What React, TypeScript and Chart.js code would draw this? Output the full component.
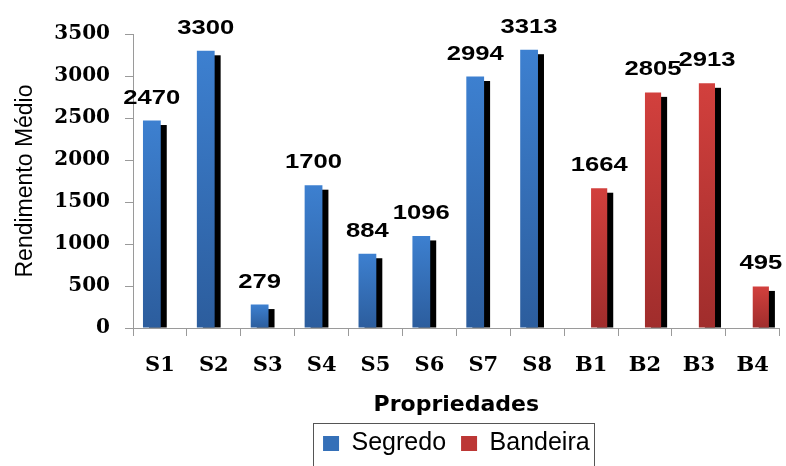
import React, { useEffect, useRef } from "react";
import { Chart, registerables } from "chart.js";

Chart.register(...registerables);

const categories = ["S1", "S2", "S3", "S4", "S5", "S6", "S7", "S8", "B1", "B2", "B3", "B4"];
const segredo = [2470, 3300, 279, 1700, 884, 1096, 2994, 3313, null, null, null, null];
const bandeira = [null, null, null, null, null, null, null, null, 1664, 2805, 2913, 495];
const seriesNames = ["Segredo", "Bandeira"];
const yMin = 0;
const yMax = 3500;
const yStep = 500;
const xTitle = "Propriedades";
const yTitle = "Rendimento Médio";

const BLUE_TOP = "#3D80D0";
const BLUE_BOTTOM = "#2C5D9D";
const RED_TOP = "#D2403D";
const RED_BOTTOM = "#A02D2C";
const AXIS = "#9a9a9a";

function gradientFill(top: string, bottom: string) {
  return (ctx: any) => {
    const chart = ctx.chart;
    const v = ctx.raw;
    const ys = chart.scales && chart.scales.y;
    if (ctx.type !== "data" || v == null || !ys) return top;
    const y0 = ys.getPixelForValue(v);
    const y1 = ys.getPixelForValue(0);
    if (!isFinite(y0) || !isFinite(y1) || Math.abs(y1 - y0) < 1) return top;
    const g = chart.ctx.createLinearGradient(0, y0, 0, y1);
    g.addColorStop(0, top);
    g.addColorStop(1, bottom);
    return g;
  };
}

const shadowPlugin = {
  id: "barShadow",
  beforeDatasetsDraw(chart: any) {
    const ctx = chart.ctx;
    ctx.save();
    ctx.fillStyle = "#000";
    chart.data.datasets.forEach((ds: any, i: number) => {
      const meta = chart.getDatasetMeta(i);
      meta.data.forEach((el: any, j: number) => {
        if (ds.data[j] == null) return;
        const p = el.getProps(["x", "y", "base", "width"], true);
        const h = p.base - p.y - 4.5;
        if (h <= 0) return;
        ctx.fillRect(p.x - p.width / 2 + 6, p.y + 4.5, p.width, h);
      });
    });
    ctx.restore();
  },
};

const valueLabelPlugin = {
  id: "valueLabels",
  afterDatasetsDraw(chart: any) {
    const ctx = chart.ctx;
    ctx.save();
    ctx.fillStyle = "#000";
    ctx.font = 'bold 21px "Liberation Sans", Arial, sans-serif';
    ctx.textAlign = "center";
    ctx.textBaseline = "alphabetic";
    chart.data.datasets.forEach((ds: any, i: number) => {
      const meta = chart.getDatasetMeta(i);
      meta.data.forEach((el: any, j: number) => {
        const v = ds.data[j];
        if (v == null) return;
        const p = el.getProps(["x", "y"], true);
        ctx.save();
        ctx.translate(p.x, p.y - 17);
        ctx.scale(1.22, 1);
        ctx.fillText(String(v), 0, 0);
        ctx.restore();
      });
    });
    ctx.restore();
  },
};

const legendBoxPlugin = {
  id: "legendBorder",
  afterDraw(chart: any) {
    const lg = chart.legend;
    if (!lg || !lg.legendHitBoxes || !lg.legendHitBoxes.length) return;
    const boxes = lg.legendHitBoxes;
    let l = Infinity, r = -Infinity, t = Infinity;
    boxes.forEach((b: any) => {
      l = Math.min(l, b.left);
      r = Math.max(r, b.left + b.width);
      t = Math.min(t, b.top);
    });
    const ctx = chart.ctx;
    ctx.save();
    ctx.strokeStyle = "#555";
    ctx.lineWidth = 1;
    const left = Math.round(l - 10) + 0.5;
    const right = Math.round(r + 4) + 0.5;
    const top = Math.round(t - 8) + 0.5;
    ctx.strokeRect(left, top, right - left, chart.height + 20 - top);
    ctx.restore();
  },
};

export default function App() {
  const canvasRef = useRef<HTMLCanvasElement | null>(null);

  useEffect(() => {
    if (!canvasRef.current) return;
    const chart = new Chart(canvasRef.current, {
      type: "bar",
      data: {
        labels: categories,
        datasets: [
          {
            label: seriesNames[0],
            data: segredo,
            backgroundColor: gradientFill(BLUE_TOP, BLUE_BOTTOM),
            borderWidth: 0,
            barPercentage: 1.1,
            categoryPercentage: 0.6,
          },
          {
            label: seriesNames[1],
            data: bandeira,
            backgroundColor: gradientFill(RED_TOP, RED_BOTTOM),
            borderWidth: 0,
            barPercentage: 1.0,
            categoryPercentage: 0.6,
          },
        ],
      },
      options: {
        animation: false,
        responsive: true,
        maintainAspectRatio: false,
        layout: { padding: { top: 34, right: 2, left: 0, bottom: 0 } },
        plugins: {
          tooltip: { enabled: false },
          legend: {
            position: "bottom",
            fullSize: false,
            labels: {
              color: "#000",
              font: { family: '"Liberation Sans", Arial, sans-serif', size: 25 },
              boxWidth: 16,
              boxHeight: 15,
              padding: 15,
              generateLabels: (chart: any) => {
                const items = Chart.defaults.plugins.legend.labels.generateLabels(chart);
                const fills = ["#3570B8", "#BC3735"];
                return items.map((it: any, i: number) => ({
                  ...it,
                  fillStyle: fills[i],
                  strokeStyle: fills[i],
                  lineWidth: 0,
                }));
              },
            },
          },
        },
        scales: {
          x: {
            offset: true,
            grid: {
              offset: true,
              drawOnChartArea: false,
              drawTicks: true,
              tickLength: 8,
              color: AXIS,
            },
            border: { display: true, color: AXIS, width: 1 },
            ticks: {
              color: "#000",
              font: { family: '"DejaVu Serif", serif', size: 21, weight: "bold" },
              padding: 17,
              autoSkip: false,
              maxRotation: 0,
            },
            title: {
              display: true,
              text: xTitle,
              color: "#000",
              font: { family: '"DejaVu Sans", sans-serif', size: 22, weight: "bold", lineHeight: 1 },
              padding: { top: 0, bottom: 0 },
            },
            afterFit: (scale: any) => {
              scale.height = 88;
            },
          },
          y: {
            min: yMin,
            max: yMax,
            grid: {
              drawOnChartArea: false,
              drawTicks: true,
              tickLength: 8,
              color: AXIS,
            },
            border: { display: true, color: AXIS, width: 1 },
            ticks: {
              stepSize: yStep,
              color: "#000",
              font: { family: '"DejaVu Serif", serif', size: 20, weight: "bold" },
              padding: 15,
              callback: (v: any) => String(v),
            },
            title: {
              display: true,
              text: yTitle,
              color: "#000",
              font: { family: '"Liberation Sans", Arial, sans-serif', size: 23, weight: "normal" },
              padding: { top: 12, bottom: 0 },
            },
            afterFit: (scale: any) => {
              scale.width = 133;
            },
          },
        },
      },
      plugins: [shadowPlugin, valueLabelPlugin, legendBoxPlugin],
    } as any);
    return () => chart.destroy();
  }, []);

  return (
    <div style={{ position: "absolute", left: 0, top: 0, width: 786, height: 466, background: "#fff" }}>
      <canvas ref={canvasRef} />
    </div>
  );
}
